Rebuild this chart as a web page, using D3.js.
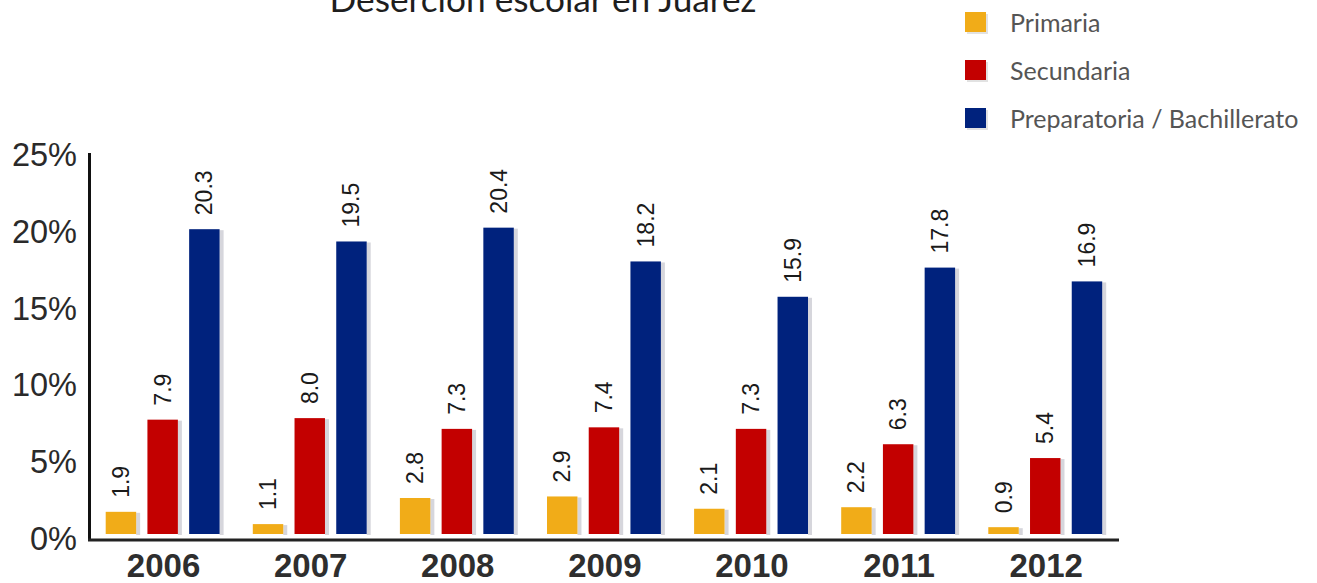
<!DOCTYPE html>
<html><head><meta charset="utf-8">
<script src="https://cdn.jsdelivr.net/npm/d3@7/dist/d3.min.js"></script>
<style>body{margin:0;background:#fff}svg{display:block}</style>
</head><body>
<svg id="c" width="1317" height="583"></svg>
<script>
const title = "Deserción escolar en Juárez";
const years = ["2006","2007","2008","2009","2010","2011","2012"];
const seriesNames = ["Primaria","Secundaria","Preparatoria / Bachillerato"];
const primaria = [1.9,1.1,2.8,2.9,2.1,2.2,0.9];
const secundaria = [7.9,8.0,7.3,7.4,7.3,6.3,5.4];
const preparatoria = [20.3,19.5,20.4,18.2,15.9,17.8,16.9];
const yTicks = [0,5,10,15,20,25];
const colors = ["#F1AC18","#C30000","#00227D"];

const values = [primaria, secundaria, preparatoria];
const svg = d3.select("#c");

const x0 = d3.scaleBand().domain(years).range([90, 1119.7]);
const x1 = d3.scaleBand().domain(seriesNames).range([15.7, 129.6]).paddingInner(0.27);
const y = d3.scaleLinear().domain([0,25]).range([541,157]);

// title (clipped at top as in reference)
const t = svg.append("text").attr("x", 543).attr("y", 12).attr("text-anchor","middle")
  .style("font-family","Lato, 'Open Sans', sans-serif").style("font-size","29px").attr("fill","#1e1e1e").text(title);
const tl = t.node().getComputedTextLength();
t.style("font-size", (29*427/tl).toFixed(2)+"px");

// bars
const groups = svg.append("g").selectAll("g").data(years).join("g")
  .attr("transform", d => `translate(${x0(d)},0)`);
years.forEach((yr, i) => {
  const g = groups.filter(d => d === yr);
  seriesNames.forEach((s, k) => {
    const v = values[k][i];
    const bx = x1(s), bw = x1.bandwidth();
    const top = y(v), bottom = y(0) - 7;
    g.append("rect").attr("x", bx + bw).attr("y", top + 1).attr("width", 4).attr("height", bottom - top)
      .attr("fill", "#d6d6dc");
    g.append("rect").attr("x", bx).attr("y", top).attr("width", bw).attr("height", bottom - top)
      .attr("fill", colors[k]);
    g.append("text").attr("transform", `translate(${bx + bw/2},${top - 14}) rotate(-90)`)
      .attr("dominant-baseline","central").attr("text-anchor","start")
      .style("font-family","'Liberation Sans', Arial, sans-serif").style("font-size","23px")
      .attr("fill","#1a1a1a").text(v.toFixed(1));
  });
});

// axes
svg.append("line").attr("x1", 89.5).attr("x2", 89.5).attr("y1", 153).attr("y2", y(0))
  .attr("stroke","#111").attr("stroke-width",3);
svg.append("line").attr("x1", 88).attr("x2", 1119).attr("y1", 540).attr("y2", 540)
  .attr("stroke","#222").attr("stroke-width",3);

svg.append("g").selectAll("text").data(yTicks).join("text")
  .attr("x", 77).attr("y", d => y(d) - 2).attr("text-anchor","end").attr("dominant-baseline","central")
  .style("font-family","'Liberation Sans', Arial, sans-serif").style("font-size","32.5px")
  .attr("fill","#2a2a2a").text(d => d + "%");

svg.append("g").selectAll("text").data(years).join("text")
  .attr("x", d => x0(d) + x0.bandwidth()/2).attr("y", 577).attr("text-anchor","middle")
  .style("font-family","'Liberation Sans', Arial, sans-serif").style("font-size","33px").style("font-weight","bold")
  .attr("fill","#2e2e2e").text(d => d);

// legend
const lg = svg.append("g").selectAll("g").data(seriesNames).join("g")
  .attr("transform", (d,i) => `translate(965,${22 + i*48})`);
lg.append("rect").attr("x", 2).attr("y", -8).attr("width", 21).attr("height", 20).attr("fill","#e2e2e2");
lg.append("rect").attr("x", 0).attr("y", -10).attr("width", 21).attr("height", 20).attr("fill", (d,i) => colors[i]);
lg.append("text").attr("x", 45).attr("y", 0).attr("dominant-baseline","central")
  .style("font-family","Lato, 'Open Sans', sans-serif").style("font-size","25px")
  .attr("fill","#555").text(d => d);
</script>
</body></html>
